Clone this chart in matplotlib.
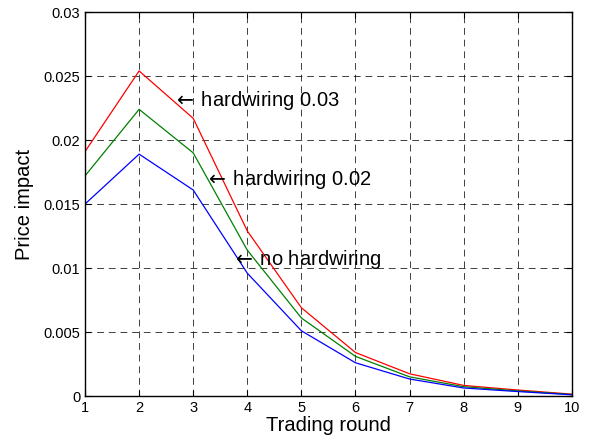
import matplotlib.pyplot as plt
from matplotlib.ticker import FixedLocator

plt.rcParams['font.family'] = ['Liberation Sans', 'DejaVu Sans']

rounds = [1, 2, 3, 4, 5, 6, 7, 8, 9, 10]
hw_003 = [0.0191, 0.0254, 0.0217, 0.0129, 0.0069, 0.0034, 0.00174, 0.00083, 0.00047, 0.00015]
hw_002 = [0.0172, 0.0224, 0.0190, 0.0114, 0.0061, 0.0031, 0.00150, 0.00073, 0.00040, 0.00012]
no_hw = [0.0150, 0.0189, 0.0161, 0.0096, 0.0051, 0.0026, 0.00133, 0.00063, 0.00035, 0.00010]

yticks = [0, 0.005, 0.01, 0.015, 0.02, 0.025, 0.03]
ytick_labels = ['0', '0.005', '0.01', '0.015', '0.02', '0.025', '0.03']

fig = plt.figure(figsize=(6, 4.47), dpi=100)
ax = fig.add_axes([0.1417, 0.114, 0.8113, 0.859])

ax.plot(rounds, hw_003, color='red', lw=0.9)
ax.plot(rounds, hw_002, color='#008000', lw=0.9)
ax.plot(rounds, no_hw, color='blue', lw=0.9)

ax.set_xlim(1, 10)
ax.set_ylim(0, 0.03)
ax.xaxis.set_major_locator(FixedLocator(rounds))
ax.set_yticks(yticks)
ax.set_yticklabels(ytick_labels)
ax.tick_params(direction='in', labelsize=10.5, length=4, width=0.8,
               top=True, right=True, pad=3.5)

ax.grid(True, color='black', linestyle=(0, (7, 5)), lw=0.7, alpha=0.75)
for s in ax.spines.values():
    s.set_linewidth(1.0)

ax.set_xlabel('Trading round', fontsize=14.5, labelpad=1)
ax.set_ylabel('Price impact', fontsize=14.5, labelpad=7)

# curve labels, each with a left arrow pointing at its line
notes = [(2.62, 0.02307, 'hardwiring 0.03'),
         (3.21, 0.01688, 'hardwiring 0.02'),
         (3.72, 0.01068, 'no hardwiring')]
for x, y, s in notes:
    ax.text(x, y, r'$\leftarrow\,$' + s, fontsize=14.5, va='center', ha='left')

fig.savefig('out.png', dpi=100)
